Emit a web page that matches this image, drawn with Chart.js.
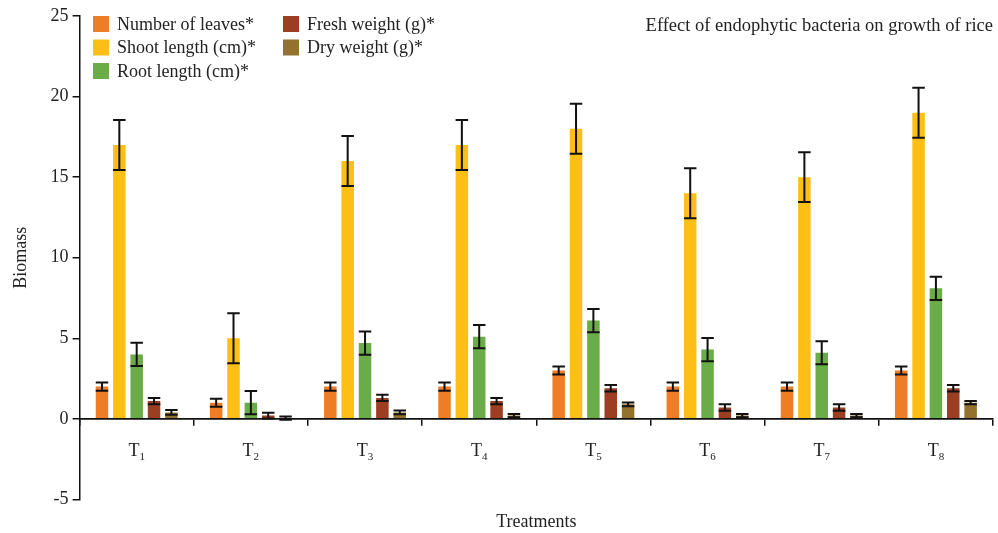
<!DOCTYPE html>
<html>
<head>
<meta charset="utf-8">
<script src="https://cdn.jsdelivr.net/npm/chart.js@4.4.1/dist/chart.umd.min.js"></script>
<style>
  html, body { margin: 0; padding: 0; background: #fff; }
  #wrap { width: 998px; height: 533px; }
</style>
</head>
<body>
<div id="wrap"><canvas id="chart"></canvas></div>
<script>
// Data
const treatments = ['T1', 'T2', 'T3', 'T4', 'T5', 'T6', 'T7', 'T8'];
const leaves = [2, 1, 2, 2, 3, 2, 2, 3];
const leavesErr = [0.25, 0.25, 0.25, 0.25, 0.25, 0.25, 0.25, 0.25];
const shoot = [17, 5, 16, 17, 18, 14, 15, 19];
const shootErr = [1.55, 1.55, 1.55, 1.55, 1.55, 1.55, 1.55, 1.55];
const root = [4, 1, 4.7, 5.1, 6.1, 4.3, 4.1, 8.1];
const rootErr = [0.72, 0.72, 0.72, 0.72, 0.72, 0.72, 0.72, 0.72];
const fresh = [1.1, 0.2, 1.3, 1.1, 1.9, 0.7, 0.7, 1.9];
const freshErr = [0.2, 0.18, 0.2, 0.2, 0.2, 0.2, 0.2, 0.2];
const dry = [0.4, 0.05, 0.4, 0.2, 0.9, 0.2, 0.2, 1.0];
const dryErr = [0.15, 0.1, 0.12, 0.1, 0.12, 0.1, 0.1, 0.1];
const yTicks = [-5, 0, 5, 10, 15, 20, 25];

const chartTitle = 'Effect of endophytic bacteria on growth of rice';
const serif = "'Liberation Serif', 'Times New Roman', serif";

const seriesList = [
    { label: 'Number of leaves*', data: leaves, err: leavesErr, color: '#EE7D26' },
    { label: 'Shoot length (cm)*', data: shoot, err: shootErr, color: '#FDBF16' },
    { label: 'Root length (cm)*', data: root, err: rootErr, color: '#6AAC47' },
    { label: 'Fresh weight (g)*', data: fresh, err: freshErr, color: '#9B3E22' },
    { label: 'Dry weight (g)*', data: dry, err: dryErr, color: '#93722E' }
];

// error bars, drawn from each bar element
const errorBars = {
    id: 'errorBars',
    afterDatasetsDraw(chart) {
        const ctx = chart.ctx;
        const y = chart.scales.y;
        ctx.save();
        ctx.strokeStyle = '#111';
        ctx.lineWidth = 2;
        chart.data.datasets.forEach((ds, i) => {
            const meta = chart.getDatasetMeta(i);
            meta.data.forEach((bar, j) => {
                const v = ds.data[j], e = ds.errors[j];
                const yt = y.getPixelForValue(v + e);
                const yb = y.getPixelForValue(v - e);
                const half = bar.width / 2;
                ctx.beginPath();
                ctx.moveTo(bar.x, yt); ctx.lineTo(bar.x, yb);
                ctx.moveTo(bar.x - half, yt); ctx.lineTo(bar.x + half, yt);
                ctx.moveTo(bar.x - half, yb); ctx.lineTo(bar.x + half, yb);
                ctx.stroke();
            });
        });
        ctx.restore();
    }
};

// legend, title and subscripted category labels
const overlay = {
    id: 'overlay',
    afterDraw(chart) {
        const ctx = chart.ctx;
        const x = chart.scales.x;
        const y = chart.scales.y;
        ctx.save();
        ctx.fillStyle = '#222';
        ctx.textBaseline = 'alphabetic';

        // category labels T with subscript
        const base = y.getPixelForValue(0) + 37;
        treatments.forEach((t, i) => {
            const cx = x.getPixelForValue(i);
            const main = t.charAt(0), sub = t.slice(1);
            ctx.font = '18px ' + serif;
            const w1 = ctx.measureText(main).width;
            ctx.font = '11px ' + serif;
            const w2 = ctx.measureText(sub).width;
            const left = cx - (w1 + w2) / 2;
            ctx.font = '18px ' + serif;
            ctx.textAlign = 'left';
            ctx.fillText(main, left, base);
            ctx.font = '11px ' + serif;
            ctx.fillText(sub, left + w1, base + 4);
        });

        // title
        ctx.font = '18.5px ' + serif;
        ctx.textAlign = 'right';
        ctx.textBaseline = 'middle';
        ctx.fillText(chartTitle, 993, 26);

        // legend
        ctx.textAlign = 'left';
        ctx.font = '18px ' + serif;
        chart.data.datasets.forEach((ds, i) => {
            const col = i < 3 ? 0 : 1;
            const row = i < 3 ? i : i - 3;
            const lx = col === 0 ? 93 : 283;
            const ly = 24 + row * 23.5;
            ctx.fillStyle = ds.backgroundColor;
            ctx.fillRect(lx, ly - 8, 16, 16);
            ctx.fillStyle = '#222';
            ctx.fillText(ds.label, lx + 24, ly + 1);
        });
        ctx.restore();
    }
};

new Chart(document.getElementById('chart'), {
    type: 'bar',
    data: {
        labels: treatments,
        datasets: seriesList.map(s => ({
            label: s.label,
            data: s.data,
            errors: s.err,
            backgroundColor: s.color,
            borderWidth: 0,
            categoryPercentage: 0.76,
            barPercentage: 0.72
        }))
    },
    options: {
        responsive: true,
        maintainAspectRatio: false,
        animation: false,
        layout: { padding: { top: 16, right: 5, left: 10, bottom: 0 } },
        plugins: {
            legend: { display: false },
            title: { display: false },
            tooltip: { enabled: false }
        },
        scales: {
            x: {
                type: 'category',
                position: { y: 0 },
                offset: true,
                afterFit: axis => { axis.height = 0; },
                grid: { offset: true, drawOnChartArea: false, drawTicks: true, tickLength: 6, color: '#111', lineWidth: 1.5 },
                border: { display: true, color: '#111', width: 1.8 },
                ticks: { display: false }
            },
            x2: {
                type: 'category',
                position: 'bottom',
                labels: treatments,
                grid: { display: false },
                border: { display: false },
                ticks: { display: false },
                title: { display: true, text: 'Treatments', color: '#222', font: { family: serif, size: 18 }, padding: { top: 4, bottom: 0 } }
            },
            y: {
                min: -5,
                max: 25,
                afterBuildTicks: axis => { axis.ticks = yTicks.map(v => ({ value: v })); },
                grid: { drawOnChartArea: false, drawTicks: true, tickLength: 7, color: '#111', lineWidth: 1.5 },
                border: { display: true, color: '#111', width: 1.5 },
                ticks: { color: '#222', font: { family: serif, size: 18 }, padding: 4 },
                title: { display: true, text: 'Biomass', color: '#222', font: { family: serif, size: 18 }, padding: { top: 0, bottom: 15 } }
            }
        }
    },
    plugins: [errorBars, overlay]
});
</script>
</body>
</html>
